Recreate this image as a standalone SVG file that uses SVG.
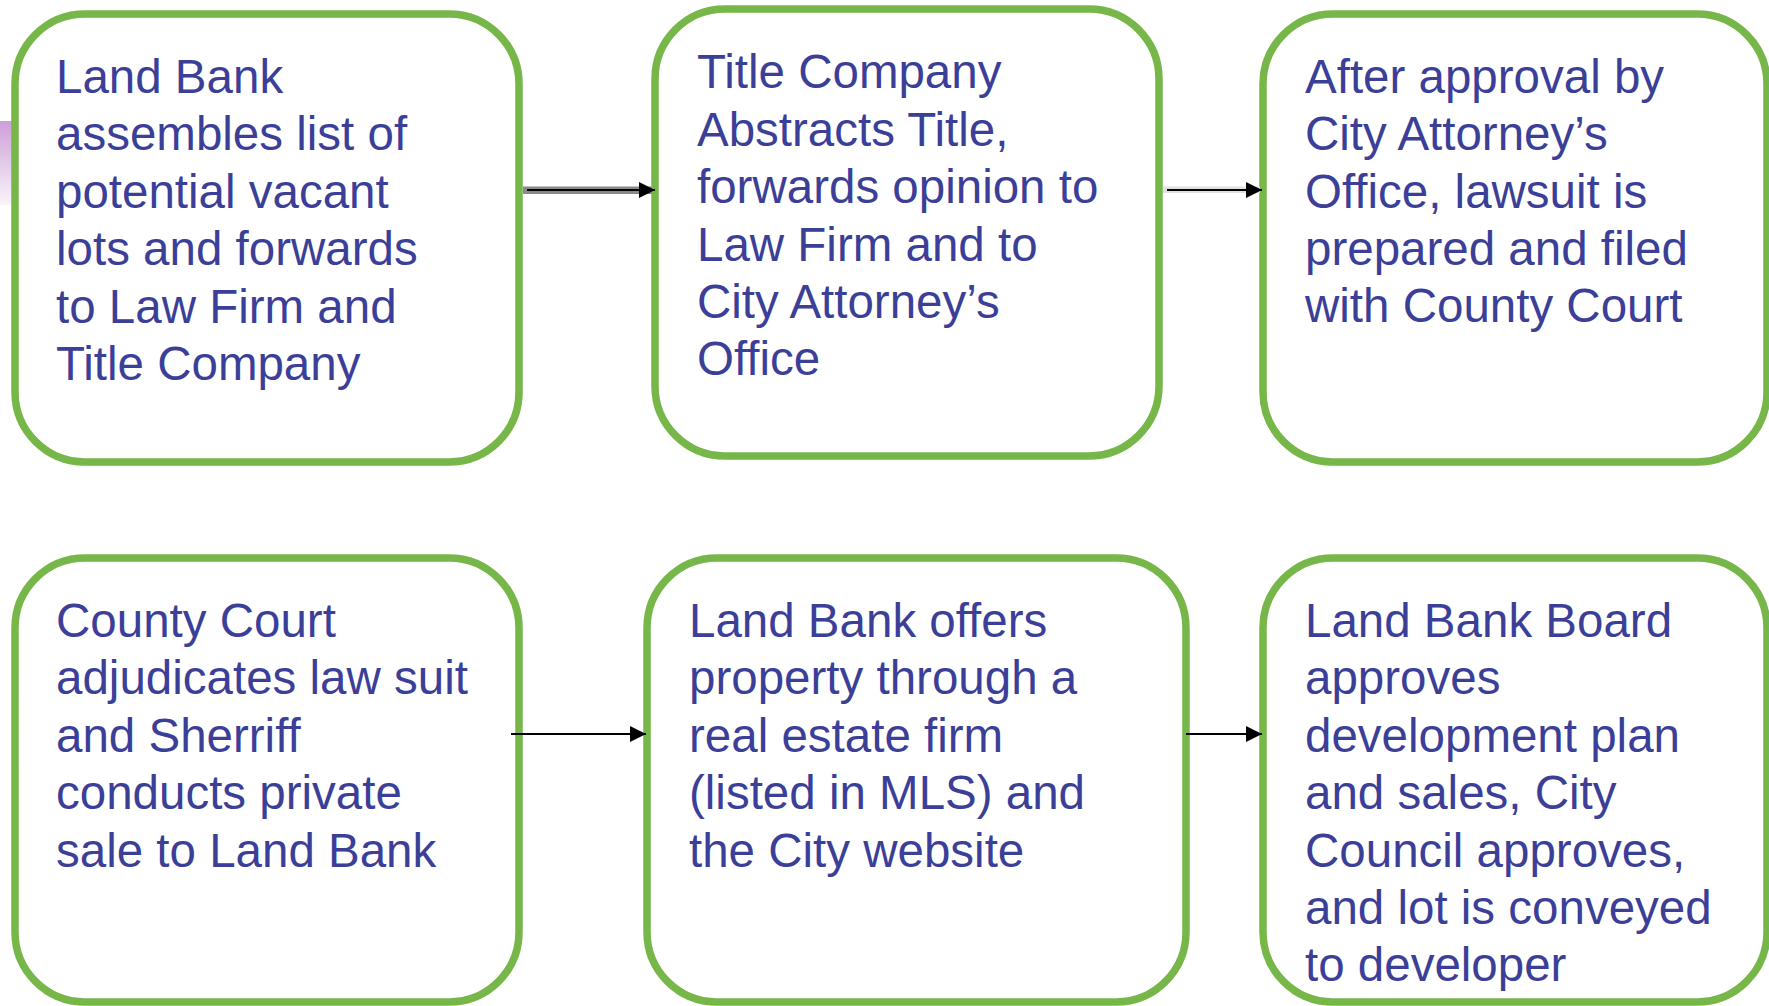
<svg xmlns="http://www.w3.org/2000/svg" width="1769" height="1006" viewBox="0 0 1769 1006">
  <defs>
    <style>
      .box { fill: #ffffff; stroke: #77B74A; stroke-width: 7.5; }
      .lbl { font-family: "Liberation Sans", Arial, sans-serif; font-size: 47.5px; fill: #3B3F98; }
      .wire { stroke: #000000; stroke-width: 2.2; fill: none; }
    </style>
    <linearGradient id="tab" x1="0" y1="0" x2="0" y2="1">
      <stop offset="0" stop-color="#CE9FD8"/>
      <stop offset="1" stop-color="#FAF4FA"/>
    </linearGradient>
    <marker id="head" markerUnits="userSpaceOnUse" markerWidth="16" markerHeight="16" refX="16" refY="8" orient="auto">
      <path d="M0,0 L16,8 L0,16 Z" fill="#000000"/>
    </marker>
  </defs>

  <rect width="1769" height="1006" fill="#ffffff"/>

  <!-- decorative side tab -->
  <rect x="0" y="121" width="12" height="84" fill="url(#tab)"/>

  <g id="step-assemble">
    <rect class="box" x="15" y="14" width="504" height="448" rx="70" ry="70"/>
    <text class="lbl" x="56" y="93">
      <tspan x="56">Land Bank</tspan>
      <tspan x="56" dy="57.4">assembles list of</tspan>
      <tspan x="56" dy="57.4">potential vacant</tspan>
      <tspan x="56" dy="57.4">lots and forwards</tspan>
      <tspan x="56" dy="57.4">to Law Firm and</tspan>
      <tspan x="56" dy="57.4">Title Company</tspan>
    </text>
  </g>

  <g id="step-title">
    <rect class="box" x="655" y="9" width="504" height="447" rx="70" ry="70"/>
    <text class="lbl" x="697" y="88.3">
      <tspan x="697">Title Company</tspan>
      <tspan x="697" dy="57.4">Abstracts Title,</tspan>
      <tspan x="697" dy="57.4">forwards opinion to</tspan>
      <tspan x="697" dy="57.4">Law Firm and to</tspan>
      <tspan x="697" dy="57.4">City Attorney’s</tspan>
      <tspan x="697" dy="57.4">Office</tspan>
    </text>
  </g>

  <g id="step-lawsuit">
    <rect class="box" x="1263" y="14" width="504" height="448" rx="70" ry="70"/>
    <text class="lbl" x="1305" y="92.7">
      <tspan x="1305">After approval by</tspan>
      <tspan x="1305" dy="57.4">City Attorney’s</tspan>
      <tspan x="1305" dy="57.4">Office, lawsuit is</tspan>
      <tspan x="1305" dy="57.4">prepared and filed</tspan>
      <tspan x="1305" dy="57.4">with County Court</tspan>
    </text>
  </g>

  <g id="step-court">
    <rect class="box" x="15" y="558" width="504" height="444" rx="70" ry="70"/>
    <text class="lbl" x="56" y="637">
      <tspan x="56">County Court</tspan>
      <tspan x="56" dy="57.4">adjudicates law suit</tspan>
      <tspan x="56" dy="57.4">and Sherriff</tspan>
      <tspan x="56" dy="57.4">conducts private</tspan>
      <tspan x="56" dy="57.4">sale to Land Bank</tspan>
    </text>
  </g>

  <g id="step-offer">
    <rect class="box" x="647" y="558" width="539" height="444" rx="70" ry="70"/>
    <text class="lbl" x="689" y="637">
      <tspan x="689">Land Bank offers</tspan>
      <tspan x="689" dy="57.4">property through a</tspan>
      <tspan x="689" dy="57.4">real estate firm</tspan>
      <tspan x="689" dy="57.4">(listed in MLS) and</tspan>
      <tspan x="689" dy="57.4">the City website</tspan>
    </text>
  </g>

  <g id="step-approve">
    <rect class="box" x="1263" y="558" width="504" height="444" rx="70" ry="70"/>
    <text class="lbl" x="1305" y="637">
      <tspan x="1305">Land Bank Board</tspan>
      <tspan x="1305" dy="57.4">approves</tspan>
      <tspan x="1305" dy="57.4">development plan</tspan>
      <tspan x="1305" dy="57.4">and sales, City</tspan>
      <tspan x="1305" dy="57.4">Council approves,</tspan>
      <tspan x="1305" dy="57.4">and lot is conveyed</tspan>
      <tspan x="1305" dy="57.4">to developer</tspan>
    </text>
  </g>

  <!-- connectors, drawn over the box outlines -->
  <g id="connectors">
    <rect x="523" y="186.5" width="129" height="7.5" fill="#8A8A8A"/>
    <line class="wire" x1="527" y1="190" x2="655" y2="190" marker-end="url(#head)"/>
    <rect x="1163" y="186.5" width="97" height="6.5" fill="#E0E0E0"/>
    <line class="wire" x1="1167" y1="190" x2="1262" y2="190" marker-end="url(#head)"/>
    <line class="wire" x1="511" y1="734" x2="646" y2="734" marker-end="url(#head)"/>
    <line class="wire" x1="1186" y1="734" x2="1262" y2="734" marker-end="url(#head)"/>
  </g>
</svg>
